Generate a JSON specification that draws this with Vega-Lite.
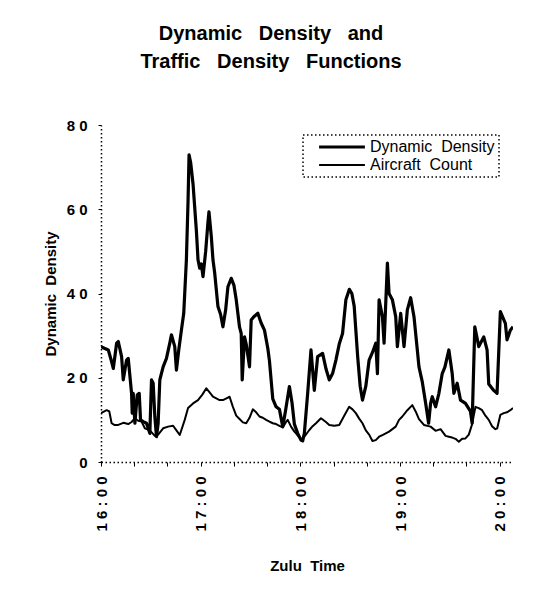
{
  "$schema": "https://vega.github.io/schema/vega-lite/v6.json",
  "width": 412,
  "height": 337,
  "autosize": "none",
  "padding": {"left": 101, "top": 125, "right": 22, "bottom": 141},
  "background": "white",
  "config": {"view": {"stroke": null}},
  "title": {
    "text": ["Dynamic\u00a0 \u00a0Density\u00a0 \u00a0and", "Traffic\u00a0 \u00a0Density\u00a0 \u00a0Functions"],
    "anchor": "middle",
    "dx": -36,
    "offset": 46,
    "font": "Liberation Sans",
    "fontSize": 20,
    "fontWeight": "bold",
    "color": "black",
    "lineHeight": 28
  },
  "data": {
    "values": [
      {"series": "Dynamic Density", "minutes": 0, "value": 27.4},
      {"series": "Dynamic Density", "minutes": 2, "value": 27},
      {"series": "Dynamic Density", "minutes": 4.4, "value": 26.6},
      {"series": "Dynamic Density", "minutes": 6.4, "value": 23.8},
      {"series": "Dynamic Density", "minutes": 7.4, "value": 22.2},
      {"series": "Dynamic Density", "minutes": 9.4, "value": 28.2},
      {"series": "Dynamic Density", "minutes": 10.4, "value": 28.6},
      {"series": "Dynamic Density", "minutes": 12.4, "value": 25},
      {"series": "Dynamic Density", "minutes": 13.4, "value": 19.5},
      {"series": "Dynamic Density", "minutes": 15.4, "value": 24.2},
      {"series": "Dynamic Density", "minutes": 16.4, "value": 24.6},
      {"series": "Dynamic Density", "minutes": 18.4, "value": 16.3},
      {"series": "Dynamic Density", "minutes": 18.8, "value": 11.6},
      {"series": "Dynamic Density", "minutes": 19.4, "value": 16.3},
      {"series": "Dynamic Density", "minutes": 20.4, "value": 9.2},
      {"series": "Dynamic Density", "minutes": 21.8, "value": 15.9},
      {"series": "Dynamic Density", "minutes": 23, "value": 16.3},
      {"series": "Dynamic Density", "minutes": 23.8, "value": 10},
      {"series": "Dynamic Density", "minutes": 25.4, "value": 9.6},
      {"series": "Dynamic Density", "minutes": 27.4, "value": 9.2},
      {"series": "Dynamic Density", "minutes": 29.4, "value": 6.8},
      {"series": "Dynamic Density", "minutes": 30.4, "value": 19.5},
      {"series": "Dynamic Density", "minutes": 31.4, "value": 18.7},
      {"series": "Dynamic Density", "minutes": 32.4, "value": 10.8},
      {"series": "Dynamic Density", "minutes": 33.4, "value": 6},
      {"series": "Dynamic Density", "minutes": 34.4, "value": 9.2},
      {"series": "Dynamic Density", "minutes": 35.4, "value": 19.5},
      {"series": "Dynamic Density", "minutes": 37.4, "value": 22.6},
      {"series": "Dynamic Density", "minutes": 39.4, "value": 24.6},
      {"series": "Dynamic Density", "minutes": 41.4, "value": 28.2},
      {"series": "Dynamic Density", "minutes": 42.4, "value": 30.2},
      {"series": "Dynamic Density", "minutes": 44.4, "value": 27.4},
      {"series": "Dynamic Density", "minutes": 45.4, "value": 21.8},
      {"series": "Dynamic Density", "minutes": 46.8, "value": 26.6},
      {"series": "Dynamic Density", "minutes": 48.4, "value": 31.3},
      {"series": "Dynamic Density", "minutes": 49.8, "value": 35.3},
      {"series": "Dynamic Density", "minutes": 51.4, "value": 48},
      {"series": "Dynamic Density", "minutes": 52.4, "value": 62},
      {"series": "Dynamic Density", "minutes": 53, "value": 72.9},
      {"series": "Dynamic Density", "minutes": 54, "value": 71},
      {"series": "Dynamic Density", "minutes": 55.4, "value": 66},
      {"series": "Dynamic Density", "minutes": 57.4, "value": 55},
      {"series": "Dynamic Density", "minutes": 58.4, "value": 48},
      {"series": "Dynamic Density", "minutes": 59.4, "value": 46},
      {"series": "Dynamic Density", "minutes": 60.4, "value": 47},
      {"series": "Dynamic Density", "minutes": 61.4, "value": 44},
      {"series": "Dynamic Density", "minutes": 63, "value": 50},
      {"series": "Dynamic Density", "minutes": 64.4, "value": 57},
      {"series": "Dynamic Density", "minutes": 65, "value": 59.4},
      {"series": "Dynamic Density", "minutes": 66.4, "value": 53.5},
      {"series": "Dynamic Density", "minutes": 67.4, "value": 48},
      {"series": "Dynamic Density", "minutes": 68.4, "value": 45},
      {"series": "Dynamic Density", "minutes": 70.4, "value": 36.9},
      {"series": "Dynamic Density", "minutes": 72, "value": 35},
      {"series": "Dynamic Density", "minutes": 73.4, "value": 32.1},
      {"series": "Dynamic Density", "minutes": 75, "value": 36},
      {"series": "Dynamic Density", "minutes": 76.4, "value": 41.6},
      {"series": "Dynamic Density", "minutes": 78.4, "value": 43.6},
      {"series": "Dynamic Density", "minutes": 80, "value": 42},
      {"series": "Dynamic Density", "minutes": 81.4, "value": 38.5},
      {"series": "Dynamic Density", "minutes": 83.4, "value": 32},
      {"series": "Dynamic Density", "minutes": 84.4, "value": 30.5},
      {"series": "Dynamic Density", "minutes": 85, "value": 19.5},
      {"series": "Dynamic Density", "minutes": 86.4, "value": 29.7},
      {"series": "Dynamic Density", "minutes": 87.4, "value": 28},
      {"series": "Dynamic Density", "minutes": 89.4, "value": 22.6},
      {"series": "Dynamic Density", "minutes": 90.4, "value": 33.7},
      {"series": "Dynamic Density", "minutes": 92, "value": 34.5},
      {"series": "Dynamic Density", "minutes": 94.4, "value": 35.3},
      {"series": "Dynamic Density", "minutes": 96.4, "value": 33},
      {"series": "Dynamic Density", "minutes": 98.4, "value": 31.3},
      {"series": "Dynamic Density", "minutes": 100.4, "value": 27},
      {"series": "Dynamic Density", "minutes": 101.4, "value": 24},
      {"series": "Dynamic Density", "minutes": 103.4, "value": 15},
      {"series": "Dynamic Density", "minutes": 105.4, "value": 13.1},
      {"series": "Dynamic Density", "minutes": 107.4, "value": 12.5},
      {"series": "Dynamic Density", "minutes": 109.4, "value": 8.4},
      {"series": "Dynamic Density", "minutes": 111, "value": 12},
      {"series": "Dynamic Density", "minutes": 113.4, "value": 17.9},
      {"series": "Dynamic Density", "minutes": 115, "value": 14},
      {"series": "Dynamic Density", "minutes": 116.4, "value": 9},
      {"series": "Dynamic Density", "minutes": 118.4, "value": 6.8},
      {"series": "Dynamic Density", "minutes": 120.4, "value": 5.2},
      {"series": "Dynamic Density", "minutes": 121.4, "value": 5},
      {"series": "Dynamic Density", "minutes": 122.4, "value": 6.8},
      {"series": "Dynamic Density", "minutes": 124.4, "value": 16.3},
      {"series": "Dynamic Density", "minutes": 126.4, "value": 26.6},
      {"series": "Dynamic Density", "minutes": 128.4, "value": 17},
      {"series": "Dynamic Density", "minutes": 130.4, "value": 25},
      {"series": "Dynamic Density", "minutes": 133.4, "value": 25.8},
      {"series": "Dynamic Density", "minutes": 135.5, "value": 22},
      {"series": "Dynamic Density", "minutes": 137.4, "value": 19.5},
      {"series": "Dynamic Density", "minutes": 139.4, "value": 21},
      {"series": "Dynamic Density", "minutes": 141.4, "value": 24.2},
      {"series": "Dynamic Density", "minutes": 143.4, "value": 28},
      {"series": "Dynamic Density", "minutes": 145.4, "value": 30.5},
      {"series": "Dynamic Density", "minutes": 147.4, "value": 38.5},
      {"series": "Dynamic Density", "minutes": 149.5, "value": 41},
      {"series": "Dynamic Density", "minutes": 151, "value": 40},
      {"series": "Dynamic Density", "minutes": 152.4, "value": 37},
      {"series": "Dynamic Density", "minutes": 154.5, "value": 25},
      {"series": "Dynamic Density", "minutes": 156, "value": 18},
      {"series": "Dynamic Density", "minutes": 157.4, "value": 14.7},
      {"series": "Dynamic Density", "minutes": 159.4, "value": 18},
      {"series": "Dynamic Density", "minutes": 161.4, "value": 24.2},
      {"series": "Dynamic Density", "minutes": 163.4, "value": 26},
      {"series": "Dynamic Density", "minutes": 165.4, "value": 28.2},
      {"series": "Dynamic Density", "minutes": 166.4, "value": 21},
      {"series": "Dynamic Density", "minutes": 167.4, "value": 38.5},
      {"series": "Dynamic Density", "minutes": 169.4, "value": 34.5},
      {"series": "Dynamic Density", "minutes": 170.4, "value": 28.2},
      {"series": "Dynamic Density", "minutes": 172.4, "value": 47.2},
      {"series": "Dynamic Density", "minutes": 173.4, "value": 40},
      {"series": "Dynamic Density", "minutes": 175.4, "value": 38.5},
      {"series": "Dynamic Density", "minutes": 177.4, "value": 34.5},
      {"series": "Dynamic Density", "minutes": 178.4, "value": 27.4},
      {"series": "Dynamic Density", "minutes": 180.4, "value": 35.3},
      {"series": "Dynamic Density", "minutes": 182.4, "value": 27.4},
      {"series": "Dynamic Density", "minutes": 184.4, "value": 36.1},
      {"series": "Dynamic Density", "minutes": 186.4, "value": 39},
      {"series": "Dynamic Density", "minutes": 188.4, "value": 34.5},
      {"series": "Dynamic Density", "minutes": 190.4, "value": 26.6},
      {"series": "Dynamic Density", "minutes": 191.4, "value": 22.6},
      {"series": "Dynamic Density", "minutes": 193.4, "value": 19},
      {"series": "Dynamic Density", "minutes": 195.4, "value": 14},
      {"series": "Dynamic Density", "minutes": 197.2, "value": 9.2},
      {"series": "Dynamic Density", "minutes": 198.4, "value": 13.9},
      {"series": "Dynamic Density", "minutes": 199.4, "value": 15.5},
      {"series": "Dynamic Density", "minutes": 201.4, "value": 13.1},
      {"series": "Dynamic Density", "minutes": 203.4, "value": 16.3},
      {"series": "Dynamic Density", "minutes": 205.4, "value": 21},
      {"series": "Dynamic Density", "minutes": 207, "value": 22.5},
      {"series": "Dynamic Density", "minutes": 209.4, "value": 26.6},
      {"series": "Dynamic Density", "minutes": 211.4, "value": 21},
      {"series": "Dynamic Density", "minutes": 212.4, "value": 16.3},
      {"series": "Dynamic Density", "minutes": 214.4, "value": 18.7},
      {"series": "Dynamic Density", "minutes": 216.4, "value": 14.7},
      {"series": "Dynamic Density", "minutes": 219.4, "value": 13.9},
      {"series": "Dynamic Density", "minutes": 222.4, "value": 12},
      {"series": "Dynamic Density", "minutes": 223.4, "value": 9.2},
      {"series": "Dynamic Density", "minutes": 225, "value": 32.1},
      {"series": "Dynamic Density", "minutes": 227.4, "value": 27.4},
      {"series": "Dynamic Density", "minutes": 230.4, "value": 29.7},
      {"series": "Dynamic Density", "minutes": 232.4, "value": 26.6},
      {"series": "Dynamic Density", "minutes": 233.4, "value": 18.5},
      {"series": "Dynamic Density", "minutes": 236.4, "value": 17},
      {"series": "Dynamic Density", "minutes": 238.4, "value": 16.3},
      {"series": "Dynamic Density", "minutes": 240.4, "value": 35.7},
      {"series": "Dynamic Density", "minutes": 243.4, "value": 32.9},
      {"series": "Dynamic Density", "minutes": 244.4, "value": 29},
      {"series": "Dynamic Density", "minutes": 246.4, "value": 31.3},
      {"series": "Dynamic Density", "minutes": 248, "value": 32.1},

      {"series": "Aircraft Count", "minutes": 0, "value": 11.6},
      {"series": "Aircraft Count", "minutes": 3.4, "value": 12.3},
      {"series": "Aircraft Count", "minutes": 5, "value": 12},
      {"series": "Aircraft Count", "minutes": 6.4, "value": 9.2},
      {"series": "Aircraft Count", "minutes": 8, "value": 8.8},
      {"series": "Aircraft Count", "minutes": 10.4, "value": 8.8},
      {"series": "Aircraft Count", "minutes": 13.4, "value": 9.3},
      {"series": "Aircraft Count", "minutes": 16.4, "value": 9},
      {"series": "Aircraft Count", "minutes": 18.4, "value": 9.5},
      {"series": "Aircraft Count", "minutes": 20.4, "value": 10.4},
      {"series": "Aircraft Count", "minutes": 22.4, "value": 9.8},
      {"series": "Aircraft Count", "minutes": 24.4, "value": 9.6},
      {"series": "Aircraft Count", "minutes": 26.4, "value": 8},
      {"series": "Aircraft Count", "minutes": 29.4, "value": 7.5},
      {"series": "Aircraft Count", "minutes": 32.4, "value": 6.2},
      {"series": "Aircraft Count", "minutes": 34.4, "value": 6.5},
      {"series": "Aircraft Count", "minutes": 37.4, "value": 8},
      {"series": "Aircraft Count", "minutes": 40.4, "value": 8.4},
      {"series": "Aircraft Count", "minutes": 43.4, "value": 8.6},
      {"series": "Aircraft Count", "minutes": 45.4, "value": 7.5},
      {"series": "Aircraft Count", "minutes": 47.4, "value": 6.4},
      {"series": "Aircraft Count", "minutes": 50.4, "value": 10},
      {"series": "Aircraft Count", "minutes": 52.4, "value": 12.8},
      {"series": "Aircraft Count", "minutes": 55.4, "value": 13.9},
      {"series": "Aircraft Count", "minutes": 58.4, "value": 14.7},
      {"series": "Aircraft Count", "minutes": 61, "value": 16},
      {"series": "Aircraft Count", "minutes": 63.4, "value": 17.5},
      {"series": "Aircraft Count", "minutes": 65.4, "value": 16.5},
      {"series": "Aircraft Count", "minutes": 67.4, "value": 15.5},
      {"series": "Aircraft Count", "minutes": 69.4, "value": 15.1},
      {"series": "Aircraft Count", "minutes": 71.4, "value": 14.7},
      {"series": "Aircraft Count", "minutes": 73.4, "value": 14.7},
      {"series": "Aircraft Count", "minutes": 76.4, "value": 15.3},
      {"series": "Aircraft Count", "minutes": 77.4, "value": 15.5},
      {"series": "Aircraft Count", "minutes": 79.4, "value": 13.1},
      {"series": "Aircraft Count", "minutes": 81.4, "value": 11},
      {"series": "Aircraft Count", "minutes": 83.4, "value": 10.2},
      {"series": "Aircraft Count", "minutes": 85.4, "value": 9.4},
      {"series": "Aircraft Count", "minutes": 87.4, "value": 9.2},
      {"series": "Aircraft Count", "minutes": 89.4, "value": 10.5},
      {"series": "Aircraft Count", "minutes": 91.4, "value": 12.5},
      {"series": "Aircraft Count", "minutes": 93.4, "value": 11.8},
      {"series": "Aircraft Count", "minutes": 95.4, "value": 10.8},
      {"series": "Aircraft Count", "minutes": 97.4, "value": 10.5},
      {"series": "Aircraft Count", "minutes": 99.4, "value": 10},
      {"series": "Aircraft Count", "minutes": 101.4, "value": 9.6},
      {"series": "Aircraft Count", "minutes": 103.4, "value": 9.2},
      {"series": "Aircraft Count", "minutes": 105.4, "value": 9},
      {"series": "Aircraft Count", "minutes": 107.4, "value": 8.6},
      {"series": "Aircraft Count", "minutes": 109.4, "value": 8.2},
      {"series": "Aircraft Count", "minutes": 111.4, "value": 9.5},
      {"series": "Aircraft Count", "minutes": 112.4, "value": 10},
      {"series": "Aircraft Count", "minutes": 114.4, "value": 8.4},
      {"series": "Aircraft Count", "minutes": 116.4, "value": 7.2},
      {"series": "Aircraft Count", "minutes": 117.4, "value": 6.8},
      {"series": "Aircraft Count", "minutes": 119.4, "value": 5.8},
      {"series": "Aircraft Count", "minutes": 120.4, "value": 5.2},
      {"series": "Aircraft Count", "minutes": 122.4, "value": 6},
      {"series": "Aircraft Count", "minutes": 125.4, "value": 7.6},
      {"series": "Aircraft Count", "minutes": 127.4, "value": 8.5},
      {"series": "Aircraft Count", "minutes": 129.4, "value": 9.2},
      {"series": "Aircraft Count", "minutes": 132.4, "value": 10.4},
      {"series": "Aircraft Count", "minutes": 135.4, "value": 9.5},
      {"series": "Aircraft Count", "minutes": 137.4, "value": 8.8},
      {"series": "Aircraft Count", "minutes": 140.4, "value": 8.6},
      {"series": "Aircraft Count", "minutes": 143.4, "value": 8.8},
      {"series": "Aircraft Count", "minutes": 146.4, "value": 11},
      {"series": "Aircraft Count", "minutes": 149.4, "value": 13.1},
      {"series": "Aircraft Count", "minutes": 151.4, "value": 12.5},
      {"series": "Aircraft Count", "minutes": 153.4, "value": 11.6},
      {"series": "Aircraft Count", "minutes": 155.4, "value": 10.3},
      {"series": "Aircraft Count", "minutes": 157.4, "value": 9.2},
      {"series": "Aircraft Count", "minutes": 159.4, "value": 7.5},
      {"series": "Aircraft Count", "minutes": 161.4, "value": 6.5},
      {"series": "Aircraft Count", "minutes": 163.4, "value": 5},
      {"series": "Aircraft Count", "minutes": 165.4, "value": 5.2},
      {"series": "Aircraft Count", "minutes": 167.4, "value": 6},
      {"series": "Aircraft Count", "minutes": 169.4, "value": 6.4},
      {"series": "Aircraft Count", "minutes": 171.4, "value": 6.8},
      {"series": "Aircraft Count", "minutes": 173.4, "value": 7.2},
      {"series": "Aircraft Count", "minutes": 175.4, "value": 7.8},
      {"series": "Aircraft Count", "minutes": 177.4, "value": 8.4},
      {"series": "Aircraft Count", "minutes": 179.4, "value": 10},
      {"series": "Aircraft Count", "minutes": 181.4, "value": 10.8},
      {"series": "Aircraft Count", "minutes": 184.4, "value": 12.3},
      {"series": "Aircraft Count", "minutes": 187.4, "value": 13.5},
      {"series": "Aircraft Count", "minutes": 189.4, "value": 12},
      {"series": "Aircraft Count", "minutes": 191.4, "value": 10.2},
      {"series": "Aircraft Count", "minutes": 194.4, "value": 8.8},
      {"series": "Aircraft Count", "minutes": 198.4, "value": 8.4},
      {"series": "Aircraft Count", "minutes": 201.4, "value": 7.4},
      {"series": "Aircraft Count", "minutes": 204.4, "value": 7.8},
      {"series": "Aircraft Count", "minutes": 207.4, "value": 6.2},
      {"series": "Aircraft Count", "minutes": 209.4, "value": 6},
      {"series": "Aircraft Count", "minutes": 211.4, "value": 5.8},
      {"series": "Aircraft Count", "minutes": 213.4, "value": 5.5},
      {"series": "Aircraft Count", "minutes": 215.4, "value": 4.8},
      {"series": "Aircraft Count", "minutes": 217.4, "value": 5.5},
      {"series": "Aircraft Count", "minutes": 219.4, "value": 5.6},
      {"series": "Aircraft Count", "minutes": 221.4, "value": 6.5},
      {"series": "Aircraft Count", "minutes": 223.4, "value": 9},
      {"series": "Aircraft Count", "minutes": 225.4, "value": 13.1},
      {"series": "Aircraft Count", "minutes": 227.4, "value": 12.8},
      {"series": "Aircraft Count", "minutes": 229.4, "value": 12.3},
      {"series": "Aircraft Count", "minutes": 231.4, "value": 11},
      {"series": "Aircraft Count", "minutes": 233.4, "value": 10},
      {"series": "Aircraft Count", "minutes": 235.4, "value": 8.5},
      {"series": "Aircraft Count", "minutes": 237.4, "value": 7.8},
      {"series": "Aircraft Count", "minutes": 238.5, "value": 8},
      {"series": "Aircraft Count", "minutes": 240.4, "value": 11.2},
      {"series": "Aircraft Count", "minutes": 242.4, "value": 11.6},
      {"series": "Aircraft Count", "minutes": 244.4, "value": 11.8},
      {"series": "Aircraft Count", "minutes": 246.4, "value": 12.3},
      {"series": "Aircraft Count", "minutes": 248, "value": 12.8}
    ]
  },
  "mark": {"type": "line", "strokeJoin": "round", "clip": true},
  "encoding": {
    "x": {
      "field": "minutes",
      "type": "quantitative",
      "scale": {"domain": [0, 248], "nice": false, "zero": false},
      "title": "Zulu\u00a0 Time",
      "axis": {
        "values": [0, 20, 40, 60, 80, 100, 120, 140, 160, 180, 200, 220, 240],
        "labelExpr": "datum.value % 60 == 0 ? join(split(format(16 + datum.value / 60, 'd') + ':00', ''), ' ') : ''",
        "labelAngle": 270,
        "labelFont": "Liberation Sans",
        "labelFontWeight": "bold",
        "labelFontSize": 15,
        "labelColor": "black",
        "labelPadding": 10,
        "labelOverlap": false,
        "labelFlush": false,
        "domainColor": "black",
        "domainDash": [1.5, 2.5],
        "domainWidth": 1.5,
        "tickColor": "black",
        "tickSize": 4,
        "grid": false,
        "titleFont": "Liberation Sans",
        "titleFontWeight": "bold",
        "titleFontSize": 15,
        "titleColor": "black",
        "titlePadding": 27
      }
    },
    "y": {
      "field": "value",
      "type": "quantitative",
      "scale": {"domain": [0, 80], "nice": false},
      "title": "Dynamic\u00a0 Density",
      "axis": {
        "values": [0, 20, 40, 60, 80],
        "labelExpr": "join(split(datum.label, ''), ' ')",
        "labelFont": "Liberation Sans",
        "labelFontWeight": "bold",
        "labelFontSize": 15,
        "labelColor": "black",
        "labelPadding": 11,
        "labelFlush": false,
        "domainColor": "black",
        "domainDash": [1.5, 2.5],
        "domainWidth": 1.5,
        "tickColor": "black",
        "tickSize": 3,
        "grid": false,
        "titleFont": "Liberation Sans",
        "titleFontWeight": "bold",
        "titleFontSize": 15,
        "titleColor": "black",
        "titlePadding": 8
      }
    },
    "color": {
      "field": "series",
      "type": "nominal",
      "scale": {"domain": ["Dynamic Density", "Aircraft Count"], "range": ["black", "black"]},
      "legend": {
        "orient": "none",
        "legendX": 202,
        "legendY": 10,
        "title": null,
        "strokeColor": "black",
        "padding": 4,
        "symbolType": "stroke",
        "symbolSize": 2100,
        "symbolStrokeWidth": 2,
        "symbolOffset": 10,
        "clipHeight": 16,
        "rowPadding": 2,
        "labelOffset": 3,
        "labelFont": "Liberation Sans",
        "labelFontSize": 16,
        "labelColor": "black",
        "labelExpr": "replace(datum.label, ' ', '\u00a0 ')",
        "encode": {"legend": {"update": {"strokeDash": {"value": [1.5, 2.5]}, "strokeWidth": {"value": 1.5}}}}
      }
    },
    "strokeWidth": {
      "field": "series",
      "type": "nominal",
      "scale": {"domain": ["Dynamic Density", "Aircraft Count"], "range": [3.2, 2]},
      "legend": null
    }
  }
}
